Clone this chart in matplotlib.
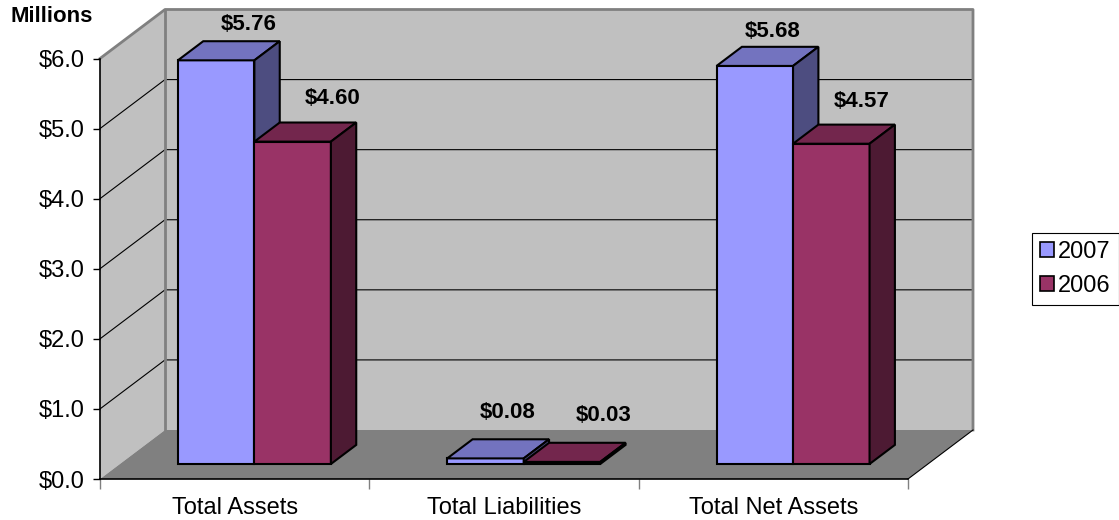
import matplotlib
matplotlib.use("Agg")
import matplotlib.pyplot as plt
from matplotlib.patches import Polygon, Rectangle, Patch
from matplotlib.ticker import FuncFormatter

# ---------------- data ----------------
categories = ["Total Assets", "Total Liabilities", "Total Net Assets"]
series_names = ["2007", "2006"]
values_2007 = [5.76, 0.08, 5.68]
values_2006 = [4.60, 0.03, 4.57]
y_ticks = [0, 1, 2, 3, 4, 5, 6]
axis_title = "Millions"

# ---------------- styles ----------------
plt.rcParams['font.family'] = ['Liberation Sans', 'DejaVu Sans']
FS = 17
FSB = 16
front_cols = ["#9999FF", "#993366"]
top_cols = ["#7373BF", "#73264D"]
side_cols = ["#4D4D80", "#4D1A33"]
WALL = "#C0C0C0"
FLOOR = "#808080"
EDGE_GRAY = "#808080"

W, H = 1119, 520
fig = plt.figure(figsize=(W / 100, H / 100), dpi=100)
x_left, x_right = 100, 908
y_bot, y_top = 479, 58.5
ax = fig.add_axes([x_left / W, 1 - y_bot / H, (x_right - x_left) / W, (y_bot - y_top) / H])
ax.set_xlim(0, 3)
ax.set_ylim(0, 6)
ax.patch.set_visible(False)

# depth offsets (data units)
px_per_cat = (x_right - x_left) / 3
px_per_val = (y_bot - y_top) / 6
DX = 65 / px_per_cat
DY = 49 / px_per_val
f0, f1 = 0.306, 0.696
gap_frac = 58 / px_per_cat
bw = 76.5 / px_per_cat
ymax = y_ticks[-1]

# walls and floor
ax.add_patch(Polygon([(0, 0), (0, ymax), (DX, ymax + DY), (DX, DY)], closed=True,
                     facecolor=WALL, edgecolor='none', zorder=0, clip_on=False))
ax.add_patch(Polygon([(DX, DY), (3 + DX, DY), (3 + DX, ymax + DY), (DX, ymax + DY)], closed=True,
                     facecolor=WALL, edgecolor='none', zorder=0, clip_on=False))
ax.add_patch(Polygon([(0, 0), (3, 0), (3 + DX, DY), (DX, DY)], closed=True,
                     facecolor=FLOOR, edgecolor='none', zorder=0.5, clip_on=False))
# gridlines
for v in y_ticks[1:-1]:
    ax.plot([0, DX, 3 + DX], [v, v + DY, v + DY], color='black', lw=0.8, zorder=1, clip_on=False)
# wall outlines
ax.plot([0, DX, 3 + DX, 3 + DX], [ymax, ymax + DY, ymax + DY, DY], color=EDGE_GRAY, lw=2, zorder=1.2, clip_on=False)
ax.plot([DX, DX], [DY, ymax + DY], color=EDGE_GRAY, lw=2, zorder=1.2, clip_on=False)
ax.plot([3, 3 + DX], [0, DY], color='black', lw=0.8, zorder=1.2, clip_on=False)

# bars
label_nudge = [[(33, 36), (40, 43)], [(22, 46), (42, 46)], [(17.5, 34), (30, 42)]]
all_vals = [values_2007, values_2006]
for i in range(len(categories)):
    for j in range(2):
        v = all_vals[j][i]
        x0 = i + gap_frac + j * bw + f0 * DX
        x1 = x0 + bw
        ya = f0 * DY
        ddx = (f1 - f0) * DX
        ddy = (f1 - f0) * DY
        z = 3 + j
        ax.add_patch(Rectangle((x0, ya), bw, v, facecolor=front_cols[j], edgecolor='black',
                               lw=1.5, zorder=z, clip_on=False, joinstyle='miter'))
        ax.add_patch(Polygon([(x0, ya + v), (x1, ya + v), (x1 + ddx, ya + v + ddy), (x0 + ddx, ya + v + ddy)],
                             closed=True, facecolor=top_cols[j], edgecolor='black', lw=1.5, zorder=z,
                             clip_on=False, joinstyle='miter'))
        ax.add_patch(Polygon([(x1, ya), (x1 + ddx, ya + ddy), (x1 + ddx, ya + v + ddy), (x1, ya + v)],
                             closed=True, facecolor=side_cols[j], edgecolor='black', lw=1.5, zorder=z,
                             clip_on=False, joinstyle='miter'))
        nx, ny = label_nudge[i][j]
        ax.annotate(f"${v:.2f}", xy=((x0 + x1) / 2, ya + v), xytext=(nx, ny), textcoords='offset pixels',
                    ha='center', va='center', fontsize=FSB, fontweight='bold', zorder=10, annotation_clip=False)

# axes, ticks
for s in ['top', 'right']:
    ax.spines[s].set_visible(False)
ax.spines['left'].set_color('black')
ax.spines['bottom'].set_color('black')
ax.spines['left'].set_linewidth(1.2)
ax.spines['bottom'].set_linewidth(1.2)
ax.spines['left'].set_zorder(2)
ax.spines['bottom'].set_zorder(2)
ax.set_yticks(y_ticks)
ax.yaxis.set_major_formatter(FuncFormatter(lambda v, p: f"${v:.1f}"))
ax.tick_params(axis='y', length=5, width=1, pad=6, labelsize=FS, direction='out')
ax.set_xticks([0.5, 1.5, 2.5])
ax.set_xticklabels(categories)
ax.set_xticks([0, 1, 2, 3], minor=True)
ax.tick_params(axis='x', which='major', length=0, pad=13, labelsize=FS)
ax.tick_params(axis='x', which='minor', length=7, width=1, color=EDGE_GRAY)

fig.text(10 / W, 1 - 17 / H, axis_title, ha='left', va='center', fontsize=FSB, fontweight='bold')

handles = [Patch(facecolor=front_cols[k], edgecolor='black', lw=1.2) for k in range(2)]
leg = fig.legend(handles, series_names, loc='center left', bbox_to_anchor=(1032 / W, 1 - 269 / H),
                 fontsize=FS, frameon=True, fancybox=False, edgecolor='black', framealpha=1,
                 handlelength=0.6, handleheight=0.6, handletextpad=0.15, borderpad=0.35,
                 labelspacing=0.5, borderaxespad=0)
leg.get_frame().set_linewidth(0.8)

fig.savefig("out.png", dpi=100)
